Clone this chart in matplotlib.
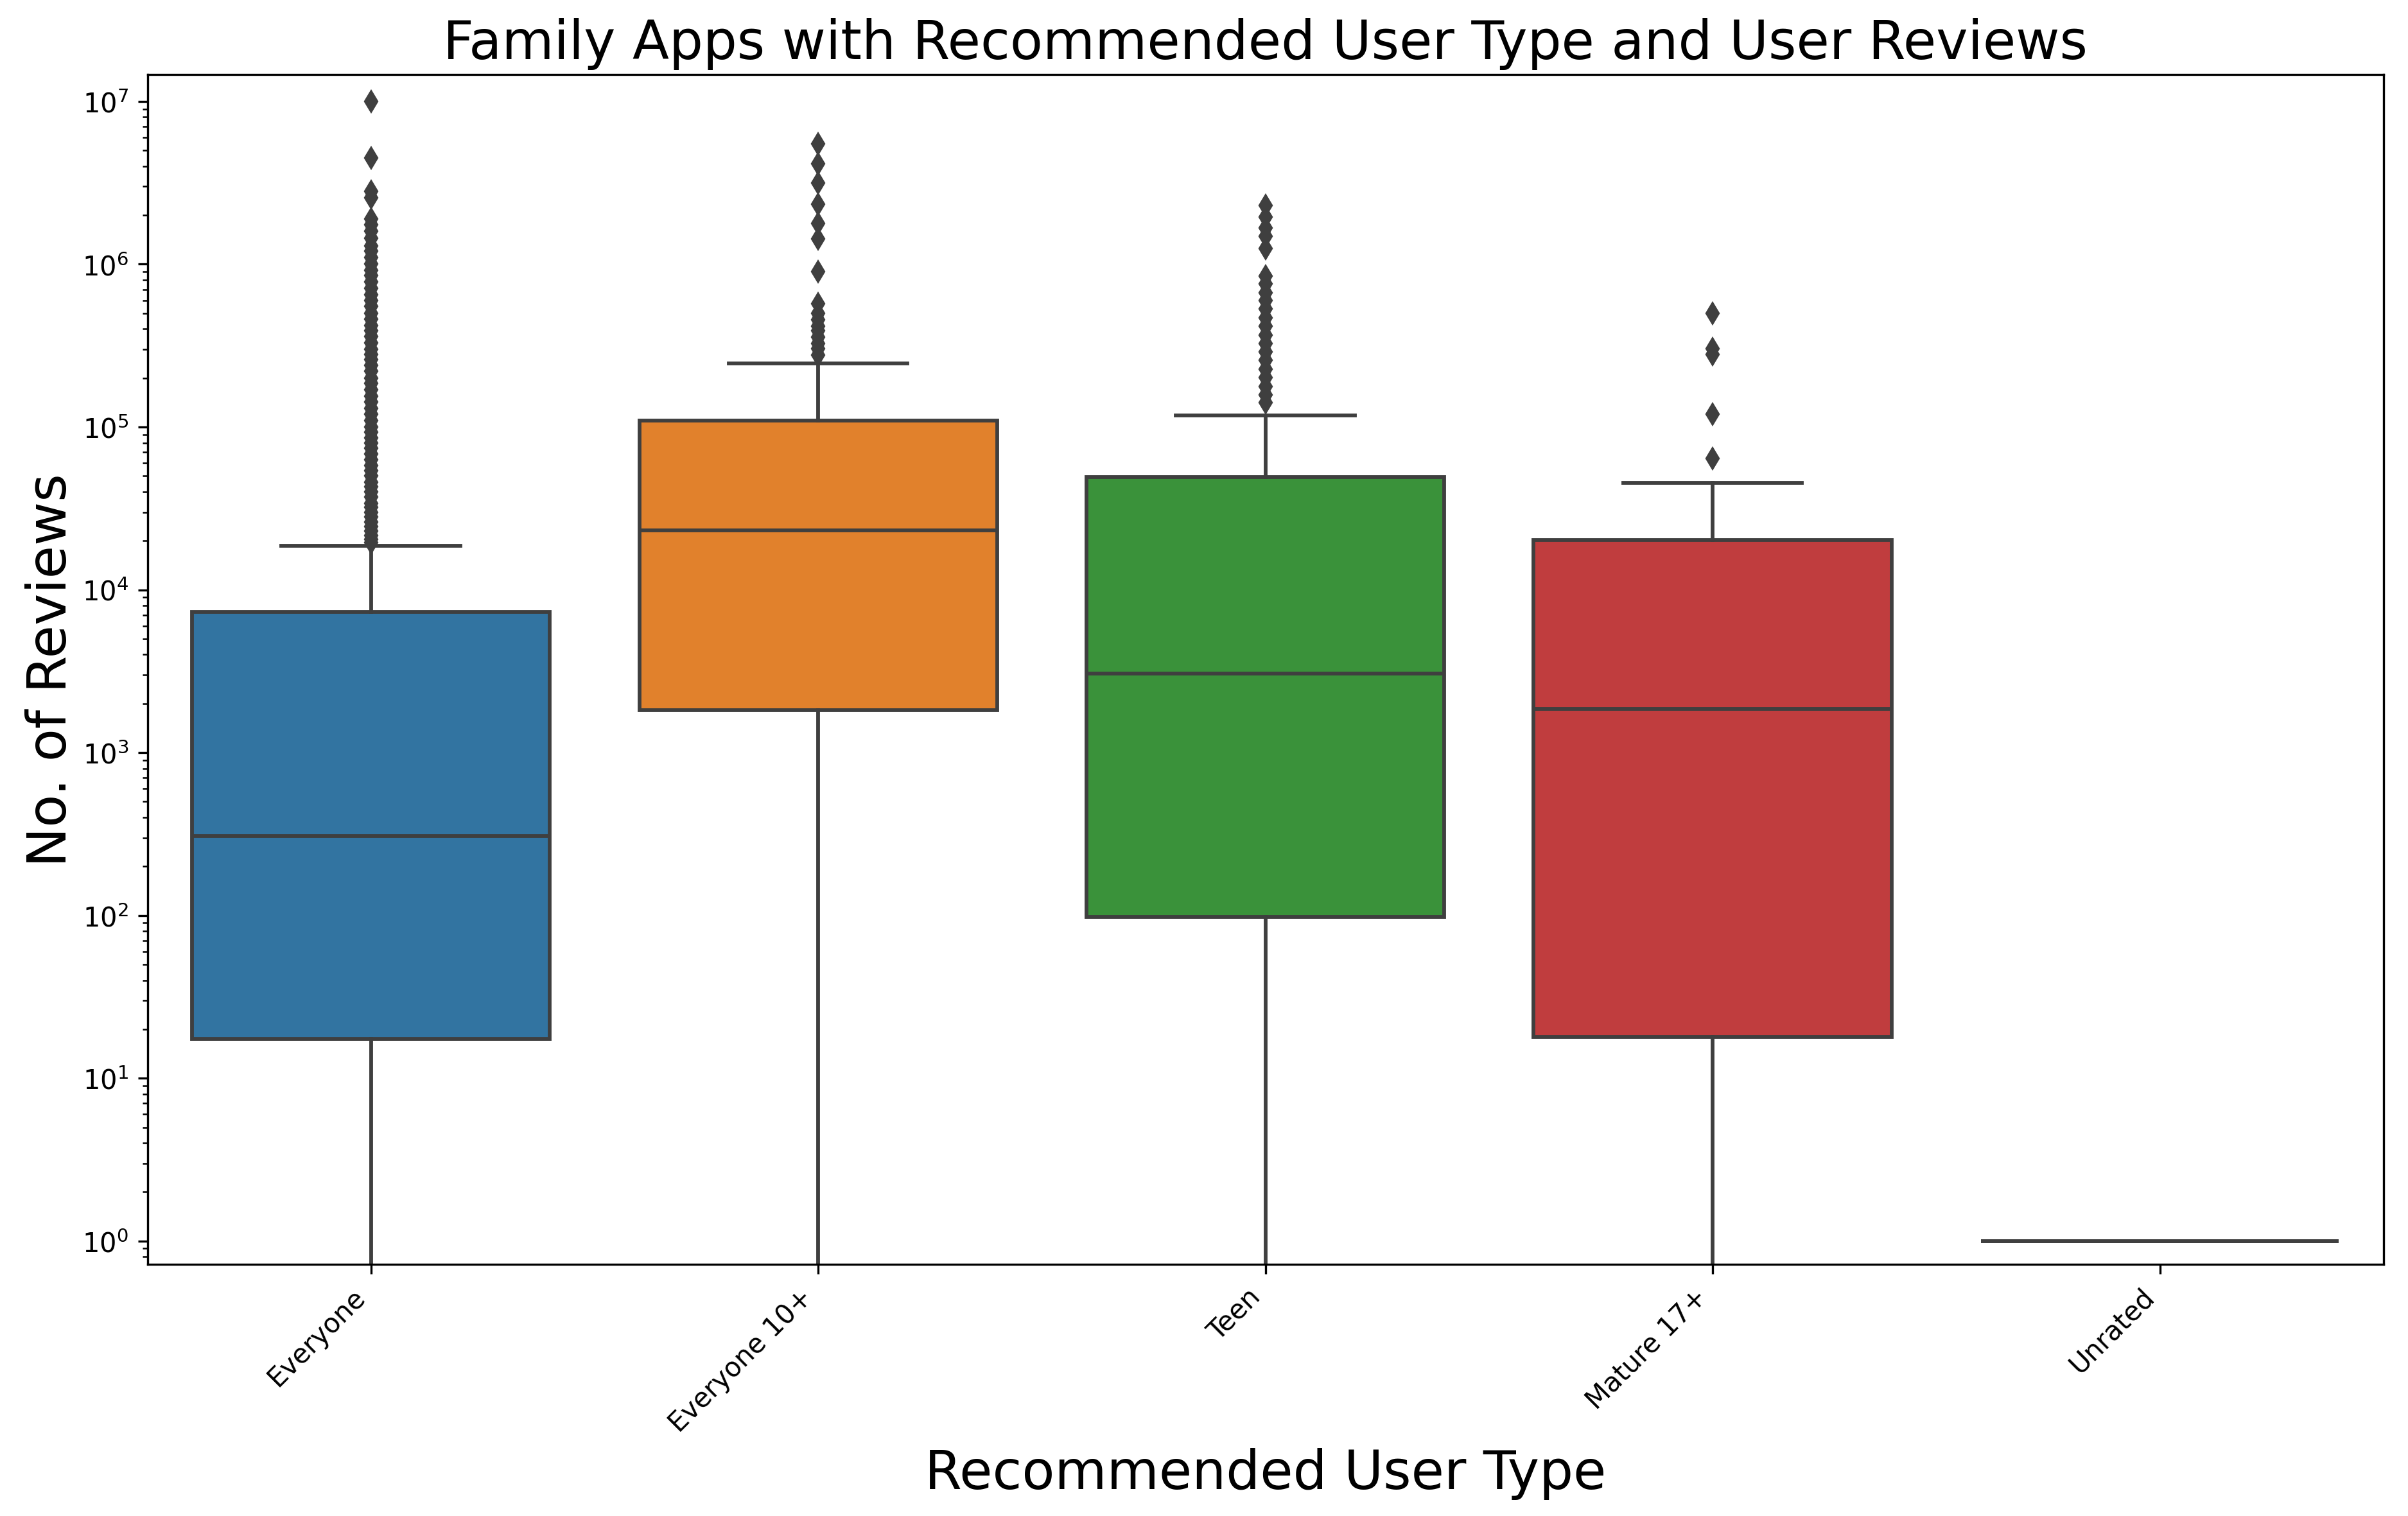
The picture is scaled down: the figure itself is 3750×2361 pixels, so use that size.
import matplotlib
matplotlib.use("Agg")
import matplotlib.pyplot as plt

categories = ["Everyone", "Everyone 10+", "Teen", "Mature 17+", "Unrated"]
q1 = [17.5, 1825, 97.5, 17.9, 1]
median = [308, 23100, 3070, 1864, 1]
q3 = [7310, 110000, 49400, 20300, 1]
whislo = [0, 0, 0, 0, 1]
whishi = [18600, 246000, 117800, 45300, 1]

fliers_everyone = [
    1.0e7, 4.5e6, 2.8e6, 2.57e6, 1.9e6, 1.75e6, 1.6e6, 1.45e6, 1.3e6, 1.2e6,
    1.1e6, 1.0e6, 9.2e5, 8.5e5, 7.8e5, 7.1e5, 6.5e5, 6.0e5, 5.5e5, 5.0e5,
    4.6e5, 4.2e5, 3.9e5, 3.6e5, 3.3e5, 3.0e5, 2.8e5, 2.6e5, 2.4e5, 2.2e5,
    2.0e5, 1.85e5, 1.7e5, 1.55e5, 1.42e5, 1.3e5, 1.2e5, 1.1e5, 1.0e5, 9.3e4,
    8.6e4, 8.0e4, 7.4e4, 6.8e4, 6.3e4, 5.8e4, 5.4e4, 5.0e4, 4.6e4, 4.3e4,
    4.0e4, 3.7e4, 3.4e4, 3.2e4, 3.0e4, 2.8e4, 2.6e4, 2.45e4, 2.3e4, 2.15e4,
    2.05e4, 1.95e4,
]
fliers_everyone10 = [
    5.48e6, 4.14e6, 3.15e6, 2.34e6, 1.78e6, 1.43e6, 9.0e5, 5.73e5, 5.0e5,
    4.57e5, 4.17e5, 3.91e5, 3.57e5, 3.27e5, 3.04e5, 2.77e5,
]
fliers_teen = [
    2.3e6, 1.95e6, 1.67e6, 1.49e6, 1.25e6, 8.47e5, 7.6e5, 6.7e5, 6.0e5,
    5.3e5, 4.7e5, 4.17e5, 3.67e5, 3.27e5, 2.9e5, 2.57e5, 2.27e5, 2.02e5,
    1.78e5, 1.58e5, 1.41e5,
]
fliers_mature = [5.0e5, 3.04e5, 2.8e5, 1.2e5, 6.4e4]
fliers_unrated = []

fliers = [fliers_everyone, fliers_everyone10, fliers_teen, fliers_mature, fliers_unrated]
colors = ["#3274a1", "#e1812c", "#3a923a", "#c03d3e", "#9372b2"]
gray = "#3f3f3f"

plt.rcParams["font.family"] = ["DejaVu Sans"]
fig = plt.figure(figsize=(12.5, 7.873), dpi=300)
ax = fig.add_axes([0.0612, 0.166, 0.9286, 0.7844])

stats = []
for i, c in enumerate(categories):
    stats.append(dict(label=c, q1=q1[i], med=median[i], q3=q3[i],
                      whislo=whislo[i], whishi=whishi[i], fliers=fliers[i]))

lw = 1.4
bp = ax.bxp(stats, positions=range(len(categories)), widths=0.8,
            patch_artist=True, showfliers=True,
            boxprops=dict(edgecolor=gray, linewidth=lw),
            medianprops=dict(color=gray, linewidth=lw),
            whiskerprops=dict(color=gray, linewidth=lw),
            capprops=dict(color=gray, linewidth=lw),
            flierprops=dict(marker="d", markersize=5, markerfacecolor=gray,
                            markeredgecolor=gray, linestyle="none"))
for patch, col in zip(bp["boxes"], colors):
    patch.set_facecolor(col)

ax.set_yscale("log")
ax.set_ylim(0.72, 1.46e7)
ax.set_xlim(-0.5, len(categories) - 0.5)
ax.set_xticks(range(len(categories)))
ax.set_xticklabels(categories, rotation=45, ha="right", fontsize=10)
ax.tick_params(axis="y", labelsize=10)

ax.set_title("Family Apps with Recommended User Type and User Reviews", fontsize=20)
ax.set_xlabel("Recommended User Type", fontsize=20)
ax.set_ylabel("No. of Reviews", fontsize=20, labelpad=2)

fig.savefig("out.png", dpi=300)
